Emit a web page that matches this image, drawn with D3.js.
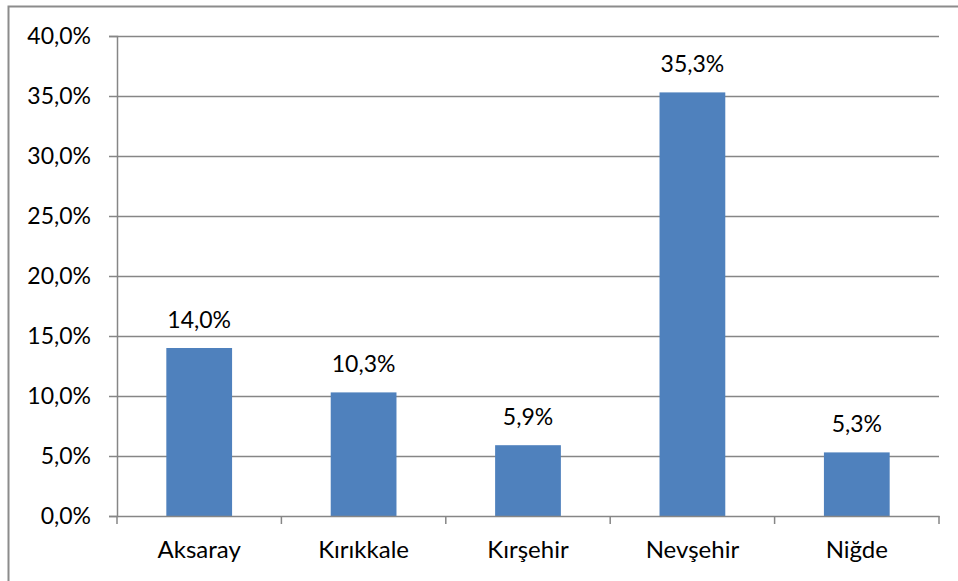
<!DOCTYPE html>
<html><head><meta charset="utf-8">
<script src="https://cdn.jsdelivr.net/npm/d3@7"></script>
<style>body{margin:0;background:#fff}svg{display:block}</style>
</head><body><svg id="c" width="958" height="581"></svg>
<script>
const categories = ["Aksaray","Kırıkkale","Kırşehir","Nevşehir","Niğde"];
const values = [14.0, 10.3, 5.9, 35.3, 5.3];
const yTicks = [0,5,10,15,20,25,30,35,40];

const svg = d3.select("#c");
const font = "Lato, 'Open Sans', sans-serif";
const m = {l:117, r:939, t:36, b:516};
svg.append("rect").attr("x",8.5).attr("y",6.5).attr("width",960).attr("height",600)
  .attr("fill","#fff").attr("stroke","#8c8c8c").attr("stroke-width",2);

const x = d3.scaleBand().domain(categories).range([m.l,m.r]).paddingInner(0.6).paddingOuter(0.3);
const y = d3.scaleLinear().domain([0,40]).range([m.b,m.t]);
const fmt = v => d3.format(".1f")(v).replace(".",",") + "%";

// gridlines
svg.append("g").selectAll("line").data(yTicks.filter(d=>d>0)).join("line")
  .attr("x1",m.l).attr("x2",m.r).attr("y1",d=>y(d)+0.5).attr("y2",d=>y(d)+0.5)
  .attr("stroke","#868686").attr("stroke-width",1.5);

// bars
svg.append("g").selectAll("rect").data(values).join("rect")
  .attr("x",(d,i)=>x(categories[i])).attr("width",x.bandwidth())
  .attr("y",d=>y(d)).attr("height",d=>y(0)-y(d)).attr("fill","#4F81BD");

// y axis
const ya = svg.append("g").attr("transform",`translate(${m.l},0)`)
  .call(d3.axisLeft(y).tickValues(yTicks).tickFormat(fmt).tickSize(8).tickPadding(18));
ya.select(".domain").attr("stroke","#868686").attr("stroke-width",1.5);
ya.selectAll(".tick line").attr("stroke","#868686").attr("stroke-width",1.5);
ya.selectAll("text").attr("font-family",font).attr("font-size",23).attr("fill","#000");

// x axis
const xa = svg.append("g").attr("transform",`translate(0,${m.b})`)
  .call(d3.axisBottom(x).tickSize(0).tickPadding(25));
xa.select(".domain").attr("stroke","#868686").attr("stroke-width",1.5);
xa.selectAll("text").attr("font-family",font).attr("font-size",24).attr("fill","#000");
const bounds = d3.range(categories.length+1).map(i=>m.l + (m.r-m.l)*i/categories.length);
svg.append("g").selectAll("line").data(bounds).join("line")
  .attr("x1",d=>d).attr("x2",d=>d).attr("y1",m.b).attr("y2",m.b+8)
  .attr("stroke","#868686").attr("stroke-width",1.5);

// value labels
svg.append("g").selectAll("text").data(values).join("text")
  .attr("x",(d,i)=>x(categories[i])+x.bandwidth()/2).attr("y",d=>y(d)-20)
  .attr("text-anchor","middle").attr("font-family",font).attr("font-size",23)
  .attr("fill","#000").text(fmt);
</script></body></html>
